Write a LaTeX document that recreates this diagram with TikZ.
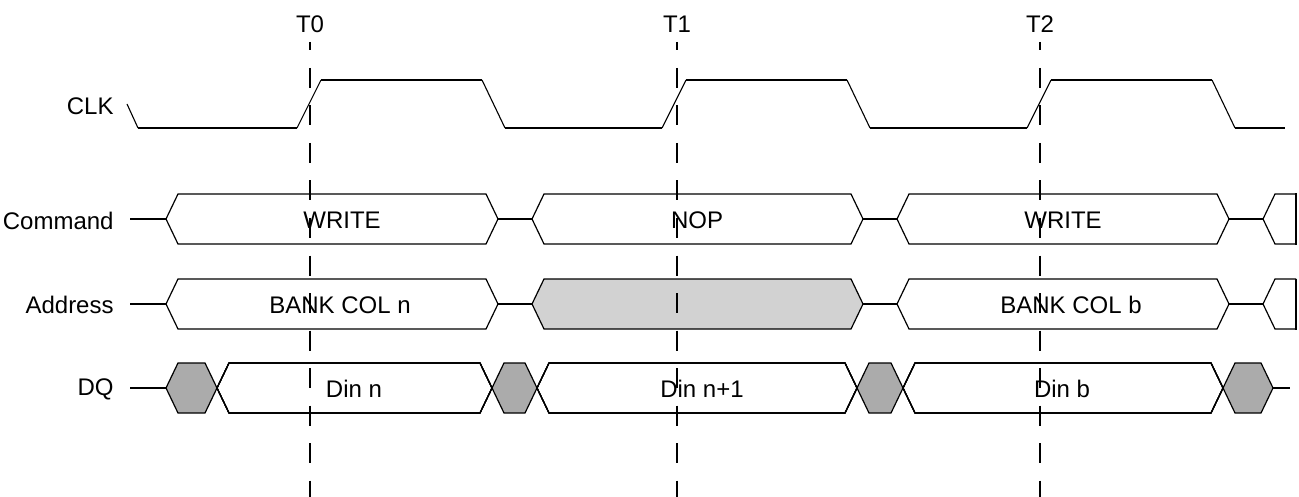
\documentclass[tikz,border=0pt]{standalone}
\usepackage{fontspec}
\setmainfont{Liberation Sans}
\usepackage{xcolor}
\definecolor{dotgray}{HTML}{ABABAB}
\definecolor{hatchgray}{HTML}{D2D2D2}
\usetikzlibrary{calc,positioning}
\tikzset{
    x=0.5pt, y=-0.5pt,
    sig/.style = {line width=1pt},
    slope/.style = {line width=0.55pt},
    busline/.style = {draw, line width=0.6pt, line join=miter},
    lbl/.style = {anchor=east, inner sep=0pt, font=\fontsize{12}{14}\selectfont},
    txt/.style = {inner sep=0pt, font=\fontsize{12}{14}\selectfont},
    tick/.style = {line width=1pt, dash pattern=on 10pt off 8.75pt, dash phase=5.75pt}
}
% bus segment: [style] {left point}{right point}{centre y}
\newcommand\busbox[4][]{%
  \draw[busline,#1] (#2,#4) -- (#2+12,#4-25) -- (#3-12,#4-25) -- (#3,#4)
    -- (#3-12,#4+25) -- (#2+12,#4+25) -- cycle;}

\begin{document}
\begin{tikzpicture}
      \useasboundingbox (0,0) rectangle (1299,497);
      \coordinate (bot) at (0,497);

      % signal names
      \node[lbl] (clk) at (114,106) {CLK};
      \node[lbl] (cmd) at (114,221) {Command};
      \node[lbl] (addr) at (114,305) {Address};
      \node[lbl] (dq) at (114,389) {DQ};

      % clock
      \draw[slope] (127,104) -- (138,128);
      \draw[sig] (138,128) -- (297,128);
      \foreach \k in {0,1,2} {
        \draw[slope] (297+365*\k,128) -- (321+365*\k,80);
        \draw[sig] (321+365*\k,80) -- (482+365*\k,80);
        \draw[slope] (482+365*\k,80) -- (505+365*\k,128);
      }
      \draw[sig] (505,128) -- (662,128);
      \draw[sig] (870,128) -- (1027,128);
      \draw[sig] (1235,128) -- (1285,128);

      % command and address buses
      \foreach \y/\name in {219/c, 304/a} {
        \coordinate (\name0) at (130,\y);
        \coordinate (\name1) at (166,\y);
        \draw[sig] (\name0) -- (\name1);
        \busbox{166}{498}{\y}
        \draw[sig] (498,\y) -- (532,\y);
        \draw[sig] (863,\y) -- (897,\y);
        \busbox{897}{1229}{\y}
        \draw[sig] (1229,\y) -- (1263,\y);
        \draw[busline] (1296,\y-25) -- (1275,\y-25) -- (1263,\y) -- (1275,\y+25) -- (1296,\y+25);
        \draw[sig] (1296,\y-25.5) -- (1296,\y+25.5);
      }
      \busbox{532}{863}{219}
      \busbox[fill=hatchgray]{532}{863}{304}

      % data bus
      \coordinate (d0) at (130,388);
      \coordinate (d1) at (166,388);
      \draw[sig] (d0) -- (d1);
      \foreach \a/\b in {166/217, 492/537, 857/903, 1223/1273}
        \busbox[fill=dotgray]{\a}{\b}{388}
      \foreach \a/\b in {217/492, 537/857, 903/1223}
        \busbox{\a}{\b}{388}
      \draw[sig] (1273,388) -- (1290,388);

      % bus contents
      \node[txt] (wr1) at (342,220) {WRITE};
      \node[txt] (nop) at (697,220) {NOP};
      \node[txt] (wr2) at (1063,220) {WRITE};
      \node[txt] (coln) at (340,305) {BANK COL n};
      \node[txt] (colb) at (1071,305) {BANK COL b};
      \node[txt] (dinn) at (354,389) {Din n};
      \node[txt] (dinn1) at (702,389) {Din n+1};
      \node[txt] (dinb) at (1062,389) {Din b};

      % clock edge markers
      \foreach \x/\t in {310/0, 677/1, 1040/2} {
        \node[txt, anchor=base] (t\t) at (\x,33) {T\t};
        \draw[tick] ($(t\t.base)+(0,9)$) -- (t\t.base |- bot);
      }
\end{tikzpicture}
\end{document}
